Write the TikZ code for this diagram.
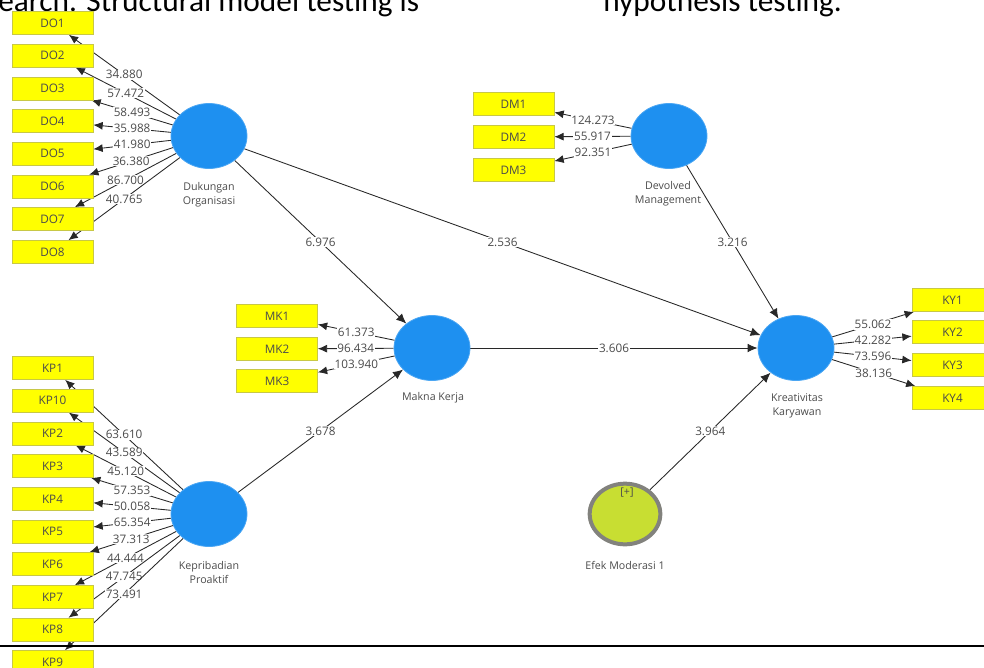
\documentclass[tikz,border=0pt]{standalone}
\usepackage{fontspec}
\setmainfont{Open Sans}
\newfontfamily\pagefont{Carlito}
\usetikzlibrary{shapes.geometric, arrows.meta, backgrounds}

\definecolor{plsblue}{RGB}{30,144,240}
\definecolor{plsyellow}{RGB}{255,255,0}
\definecolor{plsboxline}{RGB}{200,200,70}
\definecolor{plstext}{RGB}{75,75,75}
\definecolor{plsline}{RGB}{40,40,40}
\definecolor{modfill}{RGB}{200,222,50}
\definecolor{modline}{RGB}{130,130,125}

\tikzset{
  latent/.style={ellipse, fill=plsblue, draw=plsblue!80!white, line width=0.6pt,
    minimum width=57pt, minimum height=48.75pt, inner sep=0pt},
  moderator/.style={ellipse, fill=modfill, draw=modline, line width=3pt,
    minimum width=53pt, minimum height=45.5pt, inner sep=0pt},
  indicator/.style={rectangle, fill=plsyellow, draw=plsboxline, line width=0.5pt,
    minimum width=60.75pt, minimum height=17.25pt, inner sep=0pt,
    font=\fontsize{8.8}{9}\selectfont, text=plstext},
  lvname/.style={align=center, font=\fontsize{8}{10.5}\selectfont, text=plstext},
  path coef/.style={-{Latex[length=7.5pt,width=6.5pt]}, draw=plsline, line width=0.65pt},
  loading/.style={-{Latex[length=7pt,width=6pt]}, draw=plsline, line width=0.65pt},
  value/.style={fill=white, inner sep=0.6pt, font=\fontsize{8.8}{9}\selectfont, text=plstext},
  pagetext/.style={inner sep=0pt, font=\pagefont\fontsize{23.5}{26}\selectfont},
}

\begin{document}
\begin{tikzpicture}[x=0.75pt, y=-0.75pt]
  \useasboundingbox (0,0) rectangle (984,667);
  \clip (0,0) rectangle (984,667);

  % ── Page text cut off at the top ──────────────────────────────────
  \node[pagetext, anchor=base west] (txtL) at (-2,12) {earch. Structural model testing is};
  \node[pagetext, anchor=base west] (txtR) at (603,12) {hypothesis testing.};

  % ── Latent variables ──────────────────────────────────────────────
  \node[latent] (DO) at (209,136) {};
  \node[latent] (KP) at (209,514) {};
  \node[latent] (MK) at (432,348) {};
  \node[latent] (DM) at (669,136) {};
  \node[latent] (KY) at (796,348) {};
  \node[moderator] (EM) at (625,514) {};

  \node[lvname] (DOname) at (209,195) {Dukungan\\Organisasi};
  \node[lvname] (KPname) at (209,572) {Kepribadian\\Proaktif};
  \node[lvname] (MKname) at (433,398) {Makna Kerja};
  \node[lvname] (DMname) at (668,194) {Devolved\\Management};
  \node[lvname] (KYname) at (797,406) {Kreativitas\\Karyawan};
  \node[lvname] (EMname) at (625,565) {Efek Moderasi 1};
  \node[lvname] (EMtag)  at (627,493) {[+]};

  % ── Indicators ────────────────────────────────────────────────────
  \foreach \t/\y in {DO1/23, DO2/55.7, DO3/88.4, DO4/121, DO5/153.8, DO6/186.5, DO7/219, DO8/252}
    \node[indicator] (\t) at (52.5,\y) {\t};
  \foreach \t/\y in {KP1/368, KP10/400.7, KP2/433.4, KP3/466, KP4/498.8,
                     KP5/531.5, KP6/564, KP7/597, KP8/629.6, KP9/662}
    \node[indicator] (\t) at (52.5,\y) {\t};
  \foreach \t/\y in {MK1/316, MK2/349, MK3/381}
    \node[indicator] (\t) at (277,\y) {\t};
  \foreach \t/\y in {DM1/104, DM2/137, DM3/170}
    \node[indicator] (\t) at (513.5,\y) {\t};
  \foreach \t/\y in {KY1/300, KY2/332, KY3/365, KY4/398}
    \node[indicator] (\t) at (952.5,\y) {\t};

  % ── Connectors (behind the boxes) ─────────────────────────────────
  \begin{scope}[on background layer]
    \draw[path coef] (DO) -- node[value] {6.976} (MK);
    \draw[path coef] (DO) -- node[value] {2.536} (KY);
    \draw[path coef] (DM) -- node[value] {3.216} (KY);
    \draw[path coef] (MK) -- node[value] {3.606} (KY);
    \draw[path coef] (KP) -- node[value] {3.678} (MK);
    \draw[path coef] (EM) -- node[value] {3.964} (KY);

    \foreach \t/\v in {DO1/34.880, DO2/57.472, DO3/58.493, DO4/35.988,
                       DO5/41.980, DO6/36.380, DO7/86.700, DO8/40.765}
      \draw[loading] (DO) -- node[value] {\v} (\t);
    \foreach \t/\v in {KP1/63.610, KP10/43.589, KP2/45.120, KP3/57.353, KP4/50.058,
                       KP5/65.354, KP6/37.313, KP7/44.444, KP8/47.745, KP9/73.491}
      \draw[loading] (KP) -- node[value] {\v} (\t);
    \foreach \t/\v in {MK1/61.373, MK2/96.434, MK3/103.940}
      \draw[loading] (MK) -- node[value] {\v} (\t);
    \foreach \t/\v in {DM1/124.273, DM2/55.917, DM3/92.351}
      \draw[loading] (DM) -- node[value] {\v} (\t);
    \foreach \t/\v in {KY1/55.062, KY2/42.282, KY3/73.596, KY4/38.136}
      \draw[loading] (KY) -- node[value] {\v} (\t);
  \end{scope}

  % ── Rule across the page ──────────────────────────────────────────
  \coordinate (ruleL) at (0,646);
  \coordinate (ruleR) at (984,646);
  \draw[line width=1.6pt] (ruleL) -- (ruleR);
\end{tikzpicture}
\end{document}
